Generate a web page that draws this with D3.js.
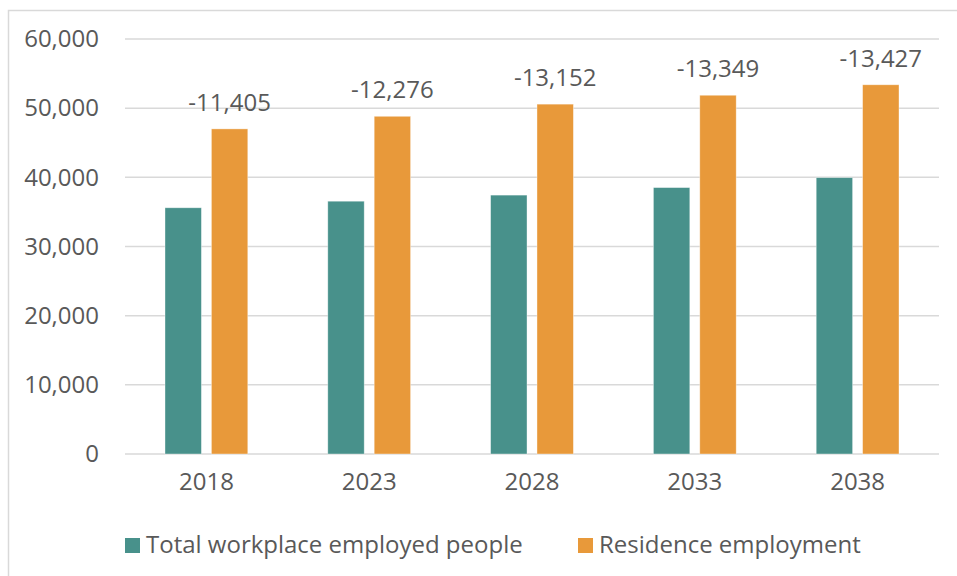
<!DOCTYPE html>
<html>
<head>
<meta charset="utf-8">
<script src="https://cdn.jsdelivr.net/npm/d3@7"></script>
<style>
    body { margin: 0; background: #fff; }
    text { font-family: "Open Sans", "Noto Sans", sans-serif; fill: #595959; }
</style>
</head>
<body>
<div id="chart"></div>
<script>
let years = ["2018", "2023", "2028", "2033", "2038"];
let workplace = [35600, 36550, 37430, 38520, 39955];
let residence = [47005, 48826, 50582, 51869, 53382];
let gapLabels = ["-11,405", "-12,276", "-13,152", "-13,349", "-13,427"];
let seriesNames = ["Total workplace employed people", "Residence employment"];
let seriesColors = ["#48918b", "#e8993a"];
let yTicks = [0, 10000, 20000, 30000, 40000, 50000, 60000];

let totalWidth = 957,
    totalHeight = 576;
let fontSize = 24;

let svg = d3.select("#chart").append("svg")
    .attr("width", totalWidth)
    .attr("height", totalHeight);

// chart frame
svg.append("rect")
    .attr("x", 8.5)
    .attr("y", 10.5)
    .attr("width", 960)
    .attr("height", 580)
    .attr("fill", "none")
    .attr("stroke", "#d9d9d9")
    .attr("stroke-width", 1.5);

let xScale = d3.scaleBand()
    .domain(years)
    .range([125, 939]);

let innerScale = d3.scaleBand()
    .domain(seriesNames)
    .range([40, xScale.bandwidth() - 40])
    .paddingInner(0.215);

let yScale = d3.scaleLinear()
    .domain([0, 60000])
    .range([454, 39]);

// gridlines
svg.append("g")
    .selectAll("line")
    .data(yTicks)
    .join("line")
    .attr("x1", 125)
    .attr("x2", 939)
    .attr("y1", d => yScale(d))
    .attr("y2", d => yScale(d))
    .attr("stroke", "#d9d9d9")
    .attr("stroke-width", 1.5);

let yAxis = d3.axisLeft(yScale)
    .tickValues(yTicks)
    .tickFormat(d3.format(","))
    .tickSize(0)
    .tickPadding(26);

let gy = svg.append("g")
    .attr("transform", "translate(125,0)")
    .call(yAxis);
gy.select(".domain").remove();
gy.selectAll("text")
    .attr("font-size", fontSize)
    .attr("fill", "#595959");

let xAxis = d3.axisBottom(xScale)
    .tickSize(0)
    .tickPadding(19);

let gx = svg.append("g")
    .attr("transform", "translate(0,454)")
    .call(xAxis);
gx.select(".domain").remove();
gx.selectAll("text")
    .attr("font-size", fontSize)
    .attr("fill", "#595959");

let rows = years.map((y, i) => ({year: y, values: [workplace[i], residence[i]], gap: gapLabels[i]}));

let groups = svg.append("g")
    .selectAll("g")
    .data(rows)
    .join("g")
    .attr("transform", d => "translate(" + xScale(d.year) + ",0)");

groups.selectAll("rect")
    .data(d => d.values.map((v, k) => ({name: seriesNames[k], value: v, color: seriesColors[k]})))
    .join("rect")
    .attr("x", d => innerScale(d.name))
    .attr("width", innerScale.bandwidth())
    .attr("y", d => yScale(d.value))
    .attr("height", d => yScale(0) - yScale(d.value))
    .attr("fill", d => d.color)
    .attr("stroke", "#ffffff")
    .attr("stroke-opacity", 0.5)
    .attr("stroke-width", 0.75);

groups.append("text")
    .attr("x", innerScale(seriesNames[1]) + innerScale.bandwidth() / 2)
    .attr("y", d => yScale(d.values[1]) - 18)
    .attr("text-anchor", "middle")
    .attr("font-size", fontSize)
    .attr("fill", "#404040")
    .text(d => d.gap);

// legend
let legendX = [125, 578];
let legend = svg.append("g")
    .selectAll("g")
    .data(seriesNames)
    .join("g")
    .attr("transform", (d, i) => "translate(" + legendX[i] + ",538)");

legend.append("rect")
    .attr("width", 15)
    .attr("height", 15)
    .attr("fill", (d, i) => seriesColors[i]);

legend.append("text")
    .attr("x", 21)
    .attr("y", 15)
    .attr("font-size", fontSize)
    .attr("fill", "#595959")
    .text(d => d);
</script>
</body>
</html>
